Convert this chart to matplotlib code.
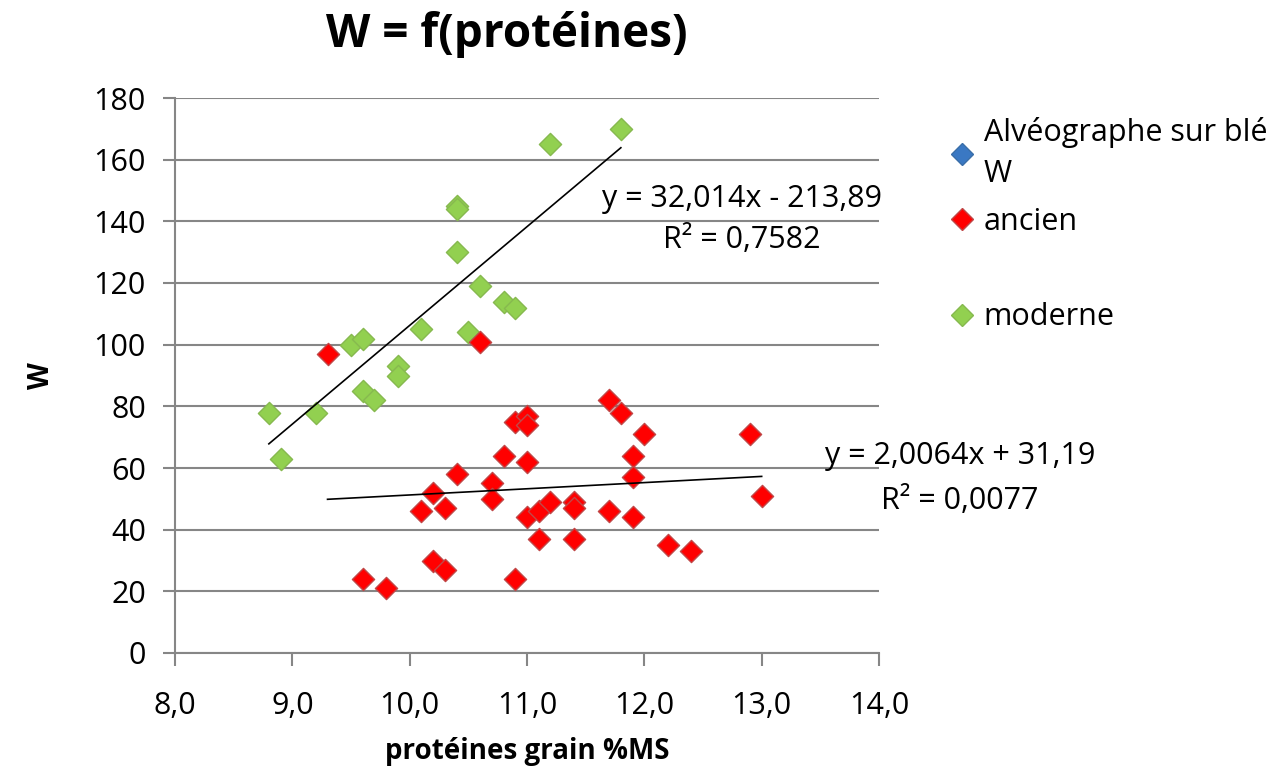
import matplotlib
matplotlib.use("Agg")
import matplotlib.pyplot as plt
from matplotlib.lines import Line2D
from matplotlib.ticker import FuncFormatter
import numpy as np

plt.rcParams['font.family'] = ['Open Sans', 'DejaVu Sans']

# ---- data ----
moderne_x = [8.8, 8.9, 9.2, 9.5, 9.6, 9.6, 9.7, 9.9, 9.9, 10.1, 10.4, 10.4, 10.4,
             10.5, 10.6, 10.8, 10.9, 11.2, 11.8]
moderne_y = [78, 63, 78, 100, 102, 85, 82, 93, 90, 105, 145, 144, 130,
             104, 119, 114, 112, 165, 170]

ancien_x = [9.3, 10.6, 9.6, 9.8, 10.1, 10.2, 10.2, 10.3, 10.3, 10.4, 10.7, 10.7,
            10.8, 10.9, 10.9, 11.0, 11.0, 11.0, 11.0, 11.1, 11.1, 11.2, 11.4, 11.4,
            11.4, 11.7, 11.7, 11.8, 11.9, 11.9, 11.9, 12.0, 12.2, 12.4, 12.9, 13.0]
ancien_y = [97, 101, 24, 21, 46, 52, 30, 47, 27, 58, 55, 50,
            64, 75, 24, 77, 74, 62, 44, 46, 37, 49, 49, 47,
            37, 82, 46, 78, 64, 57, 44, 71, 35, 33, 71, 51]

# trendline coefficients (as printed on the chart)
moderne_slope, moderne_intercept = 32.014, -213.89
ancien_slope, ancien_intercept = 2.0064, 31.19
moderne_eq = "y = 32,014x - 213,89\nR² = 0,7582"
ancien_eq = "y = 2,0064x + 31,19\nR² = 0,0077"

series_labels = ["Alvéographe sur blé\nW", "ancien", "moderne"]
x_ticks = [8.0, 9.0, 10.0, 11.0, 12.0, 13.0, 14.0]
y_ticks = [0, 20, 40, 60, 80, 100, 120, 140, 160, 180]

# ---- figure ----
fig = plt.figure(figsize=(12.74, 7.68), dpi=100)
ax = fig.add_axes([175/1274, 1-653/768, (879-175)/1274, (653-98)/768])

grid_c = '#868686'
ms = 11.3
ax.scatter(moderne_x, moderne_y, marker='D', s=ms**2, color='#92D050',
           edgecolors='#86b94f', linewidths=1.0, zorder=3)
ax.scatter(ancien_x, ancien_y, marker='D', s=ms**2, color='#FF0000',
           edgecolors='#c04848', linewidths=1.0, zorder=3)

for xs, m, b in [(moderne_x, moderne_slope, moderne_intercept),
                 (ancien_x, ancien_slope, ancien_intercept)]:
    xx = np.array([min(xs), max(xs)])
    ax.plot(xx, m*xx + b, color='black', lw=1.2, zorder=4)

ax.set_xlim(8, 14)
ax.set_ylim(0, 180)
ax.set_xticks(x_ticks)
ax.set_yticks(y_ticks)
ax.xaxis.set_major_formatter(FuncFormatter(lambda v, p: f"{v:.1f}".replace('.', ',')))
ax.yaxis.set_major_formatter(FuncFormatter(lambda v, p: f"{int(v)}"))

ax.yaxis.grid(True, color=grid_c, lw=1.5, zorder=0)
ax.set_axisbelow(True)
for s in ['top', 'right']:
    ax.spines[s].set_visible(False)
for s in ['left', 'bottom']:
    ax.spines[s].set_color(grid_c)
    ax.spines[s].set_linewidth(1.5)
ax.tick_params(axis='both', colors=grid_c, width=1.5, length=9, labelcolor='black',
               labelsize=22)
ax.tick_params(axis='y', pad=12)
ax.tick_params(axis='x', pad=18)

ax.set_xlabel("protéines grain %MS", fontsize=20, fontweight='bold', labelpad=12)
ax.set_ylabel("W", fontsize=20, fontweight='bold', labelpad=27)

fig.text(507/1274, 1-35/768, "W = f(protéines)", fontsize=33, fontweight='bold',
         ha='center', va='center')

ax.text(12.83, 140.6, moderne_eq, fontsize=22, ha='center', va='center',
        multialignment='center', linespacing=1.5, clip_on=False, zorder=5)
ax.text(14.69, 56.6, ancien_eq, fontsize=22, ha='center', va='center',
        multialignment='center', linespacing=1.62, clip_on=False, zorder=5)

handles = [Line2D([], [], marker='D', ls='none', ms=ms, color='#3a78c3', mec='#3a6ea8'),
           Line2D([], [], marker='D', ls='none', ms=ms, color='#FF0000', mec='#c04848'),
           Line2D([], [], ls='none'),
           Line2D([], [], marker='D', ls='none', ms=ms, color='#92D050', mec='#86b94f')]
labels = [series_labels[0], series_labels[1], "", series_labels[2]]
leg = fig.legend(handles, labels, loc='upper left', bbox_to_anchor=(950/1274, 1-117/768),
                 frameon=False, fontsize=22, handlelength=0.8, handletextpad=0.3,
                 labelspacing=0.58, borderaxespad=0, borderpad=0)
for t in leg.get_texts():
    t.set_linespacing(1.48)

fig.savefig("out.png", dpi=100)
